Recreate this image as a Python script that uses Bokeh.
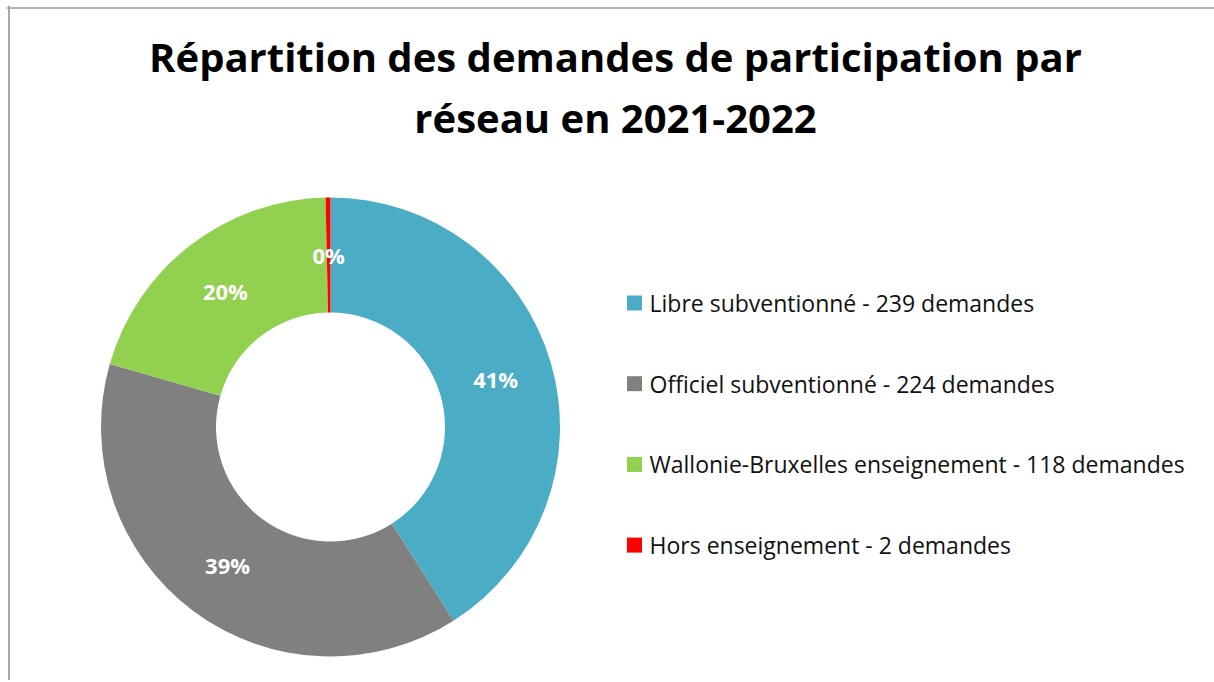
import math
from bokeh.plotting import figure
from bokeh.models import Range1d, ColumnDataSource, Span
from bokeh.core.properties import value
from bokeh.embed import file_html
from bokeh.resources import INLINE

# ---- data ----
categories = ["Libre subventionné", "Officiel subventionné",
              "Wallonie-Bruxelles enseignement", "Hors enseignement"]
counts = [239, 224, 118, 2]
pct_labels = ["41%", "39%", "20%", "0%"]
colors = ["#4bacc6", "#808080", "#92d050", "#ff0000"]
title_lines = ["Répartition des demandes de participation par",
               "réseau en 2021-2022"]

# ---- layout constants (page pixels) ----
W, H = 1214, 680
FRAME_LEFT, FRAME_TOP = 6, 5
BORDER_X, BORDER_Y = 8.5, 7.5
CX, CY = 330, 426.5          # donut centre
R_OUT, R_IN = 229.5, 114.5
TITLE_X, TITLE_Y = 615, [56, 117]
LEG_X, LEG_Y0, LEG_DY = 634, 302.5, 80.7
FONT = "Open Sans"


def yy(page_y):
    return H - page_y


total = sum(counts)
starts, ends, lx, ly = [], [], [], []
cum = 0.0
rm = (R_OUT + R_IN) / 2
for c in counts:
    f0 = cum / total
    cum += c
    f1 = cum / total
    starts.append(math.pi / 2 - 2 * math.pi * f1)
    ends.append(math.pi / 2 - 2 * math.pi * f0)
    mid = math.pi / 2 - math.pi * (f0 + f1)
    lx.append(CX + rm * math.cos(mid))
    ly.append(yy(CY) + rm * math.sin(mid))

leg_labels = [f"{c} - {n} demandes" for c, n in zip(categories, counts)]
src = ColumnDataSource(dict(cat=categories, start=starts, end=ends,
                            color=colors, lx=lx, ly=ly, lab=pct_labels,
                            x=[CX] * 4, y=[yy(CY)] * 4,
                            legx=[LEG_X] * 4,
                            legy=[yy(LEG_Y0 + i * LEG_DY) for i in range(4)],
                            legtx=[LEG_X + 15] * 4,
                            leg=leg_labels))

p = figure(width=W, height=H, output_backend="svg", toolbar_location=None,
           x_range=Range1d(FRAME_LEFT, W), y_range=Range1d(0, H - FRAME_TOP),
           min_border=0, min_border_left=FRAME_LEFT, min_border_top=FRAME_TOP)
p.axis.visible = False
p.grid.visible = False
p.outline_line_color = None
p.background_fill_color = "white"
p.border_fill_color = "white"

# chart-area border (left and top edges only, as in the reference)
p.add_layout(Span(location=BORDER_X, dimension="height",
                  line_color="#8c8c8c", line_width=1.5))
p.add_layout(Span(location=yy(BORDER_Y), dimension="width",
                  line_color="#9a9a9a", line_width=1.5))

p.annular_wedge(x="x", y="y", inner_radius=R_IN, outer_radius=R_OUT,
                start_angle="start", end_angle="end", fill_color="color",
                line_color=None, source=src)

p.text(x="lx", y="ly", text="lab", source=src, text_color="white",
       text_font=value(FONT), text_font_style="bold", text_font_size="22px",
       text_align="center", text_baseline="middle")

# title
p.text(x=[TITLE_X, TITLE_X], y=[yy(v) for v in TITLE_Y], text=title_lines,
       text_font=value(FONT), text_font_style="bold", text_font_size="40px",
       text_color="black", text_align="center", text_baseline="alphabetic")

# legend (squares + labels)
p.scatter(x="legx", y="legy", marker="square", size=15, fill_color="color",
          line_color=None, source=src)
p.text(x="legtx", y="legy", text="leg", source=src,
       text_font=value(FONT), text_font_size="23px", text_color="#111111",
       text_align="left", text_baseline="middle")

open("out.html", "w").write(file_html(p, INLINE))
